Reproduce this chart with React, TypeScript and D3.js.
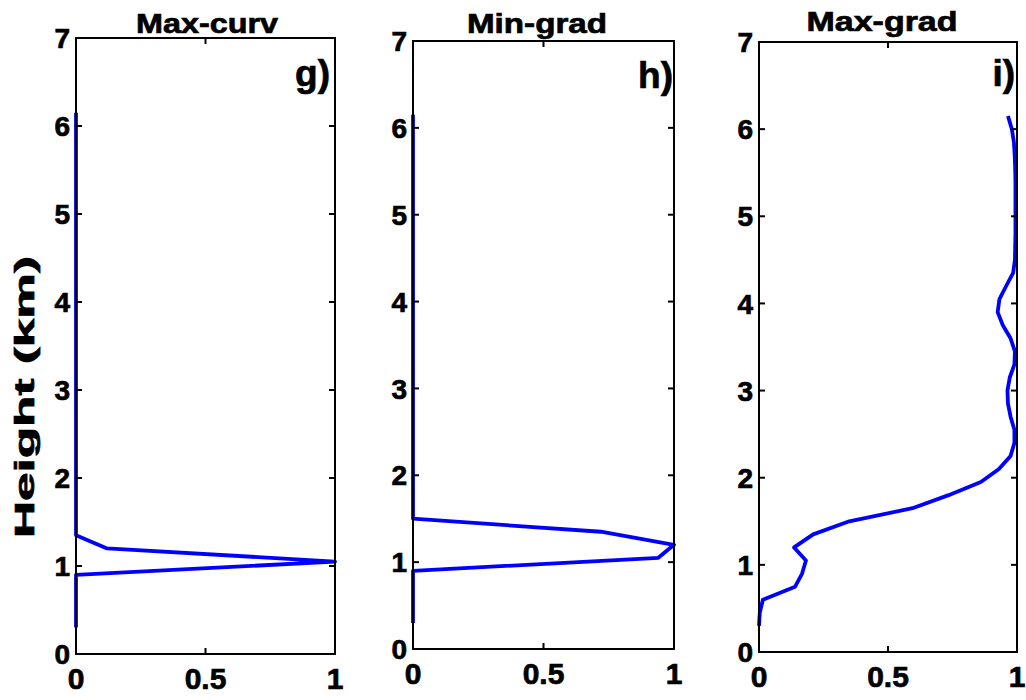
import React from "react";
import * as d3 from "d3";

// Height levels (km) of the profiles
const heights = [
  0.3, 0.45, 0.6, 0.75, 0.9, 1.05, 1.2, 1.35, 1.5, 1.65,
  1.8, 1.95, 2.1, 2.25, 2.4, 2.55, 2.7, 2.85, 3.0, 3.15,
  3.3, 3.45, 3.6, 3.75, 3.9, 4.05, 4.2, 4.35, 4.5, 4.65,
  4.8, 4.95, 5.1, 5.25, 5.4, 5.55, 5.7, 5.85, 6.0, 6.15,
];

// Normalised frequency of each method per height
const maxCurv = [
  0, 0, 0, 0, 0, 1, 0.12, 0, 0, 0,
  0, 0, 0, 0, 0, 0, 0, 0, 0, 0,
  0, 0, 0, 0, 0, 0, 0, 0, 0, 0,
  0, 0, 0, 0, 0, 0, 0, 0, 0, 0,
];

const minGrad = [
  0, 0, 0, 0, 0, 0.94, 1, 0.72, 0, 0,
  0, 0, 0, 0, 0, 0, 0, 0, 0, 0,
  0, 0, 0, 0, 0, 0, 0, 0, 0, 0,
  0, 0, 0, 0, 0, 0, 0, 0, 0, 0,
];

const maxGrad = [
  0, 0.003, 0.015, 0.14, 0.167, 0.182, 0.136, 0.21, 0.35, 0.595,
  0.735, 0.86, 0.93, 0.975, 0.99, 0.99, 0.975, 0.965, 0.963, 0.972,
  0.99, 0.992, 0.975, 0.945, 0.925, 0.932, 0.958, 0.985, 0.992, 0.993,
  0.994, 0.994, 0.994, 0.994, 0.994, 0.993, 0.991, 0.988, 0.98, 0.965,
];

const titles = ["Max-curv", "Min-grad", "Max-grad"];
const panelTags = ["g)", "h)", "i)"];
const xTicks = [0, 0.5, 1];
const xTickLabels = ["0", "0.5", "1"];
const yTicks = [0, 1, 2, 3, 4, 5, 6, 7];
const yAxisLabel = "Height (km)";

// Panel frames and text placement
const layout = [
  { left: 76, right: 335, top: 38, bottom: 654, titleX: 207, titleY: 33, titleLen: 142, tagX: 330, tagY: 86 },
  { left: 413, right: 674, top: 41, bottom: 649, titleX: 537, titleY: 33, titleLen: 140, tagX: 673, tagY: 88 },
  { left: 759, right: 1017, top: 42, bottom: 652, titleX: 882, titleY: 31, titleLen: 151, tagX: 1015, tagY: 86 },
];

const series = [maxCurv, minGrad, maxGrad];
const FONT = "'Liberation Sans', Arial, Helvetica, sans-serif";
const TICK = 6;
const TEXT_STROKE = 0.7;

function Panel({ idx }: { idx: number }) {
  const L = layout[idx];
  const x = d3.scaleLinear().domain([0, 1]).range([L.left, L.right]);
  const y = d3.scaleLinear().domain([0, 7]).range([L.bottom, L.top]);
  const values = series[idx];
  const pts: [number, number][] = heights.map((h, i) => [values[i], h]);
  const line = d3
    .line<[number, number]>()
    .x((d) => x(d[0]))
    .y((d) => y(d[1]));

  const textProps = {
    fontFamily: FONT,
    fontWeight: "bold" as const,
    fill: "#000",
    stroke: "#000",
    strokeWidth: TEXT_STROKE,
  };

  return (
    <g>
      <path
        d={line(pts) || ""}
        fill="none"
        stroke="#0000ff"
        strokeWidth={3.8}
        strokeLinejoin="round"
        strokeLinecap="butt"
      />
      {/* box */}
      <rect
        x={L.left}
        y={L.top}
        width={L.right - L.left}
        height={L.bottom - L.top}
        fill="none"
        stroke="#000"
        strokeWidth={2}
      />
      {/* x ticks (bottom and top, inward) */}
      {xTicks.map((t, i) => (
        <g key={"xt" + i}>
          <line x1={x(t)} x2={x(t)} y1={L.bottom} y2={L.bottom - TICK} stroke="#000" strokeWidth={2} />
          <line x1={x(t)} x2={x(t)} y1={L.top} y2={L.top + TICK} stroke="#000" strokeWidth={2} />
          <text x={x(t)} y={L.bottom + 35} textAnchor="middle" fontSize={30} {...textProps}>
            {xTickLabels[i]}
          </text>
        </g>
      ))}
      {/* y ticks (left and right, inward) */}
      {yTicks.map((t) => (
        <g key={"yt" + t}>
          <line x1={L.left} x2={L.left + TICK} y1={y(t)} y2={y(t)} stroke="#000" strokeWidth={2} />
          <line x1={L.right} x2={L.right - TICK} y1={y(t)} y2={y(t)} stroke="#000" strokeWidth={2} />
          <text x={L.left - 6} y={y(t)} dy="0.36em" textAnchor="end" fontSize={28} {...textProps}>
            {t}
          </text>
        </g>
      ))}
      <text
        x={L.titleX}
        y={L.titleY}
        textAnchor="middle"
        fontSize={28}
        textLength={L.titleLen}
        lengthAdjust="spacingAndGlyphs"
        {...textProps}
      >
        {titles[idx]}
      </text>
      <text x={L.tagX} y={L.tagY} textAnchor="end" fontSize={37} {...textProps}>
        {panelTags[idx]}
      </text>
    </g>
  );
}

export default function App() {
  return (
    <svg
      width={1026}
      height={700}
      style={{ position: "absolute", left: 0, top: 0, background: "#fff" }}
    >
      <rect x={0} y={0} width={1026} height={700} fill="#fff" />
      {layout.map((_, i) => (
        <Panel key={i} idx={i} />
      ))}
      <text
        transform="translate(34,397) rotate(-90)"
        textAnchor="middle"
        fontFamily={FONT}
        fontWeight="bold"
        fontSize={28}
        textLength={282}
        lengthAdjust="spacingAndGlyphs"
        fill="#000"
        stroke="#000"
        strokeWidth={TEXT_STROKE}
      >
        {yAxisLabel}
      </text>
    </svg>
  );
}
